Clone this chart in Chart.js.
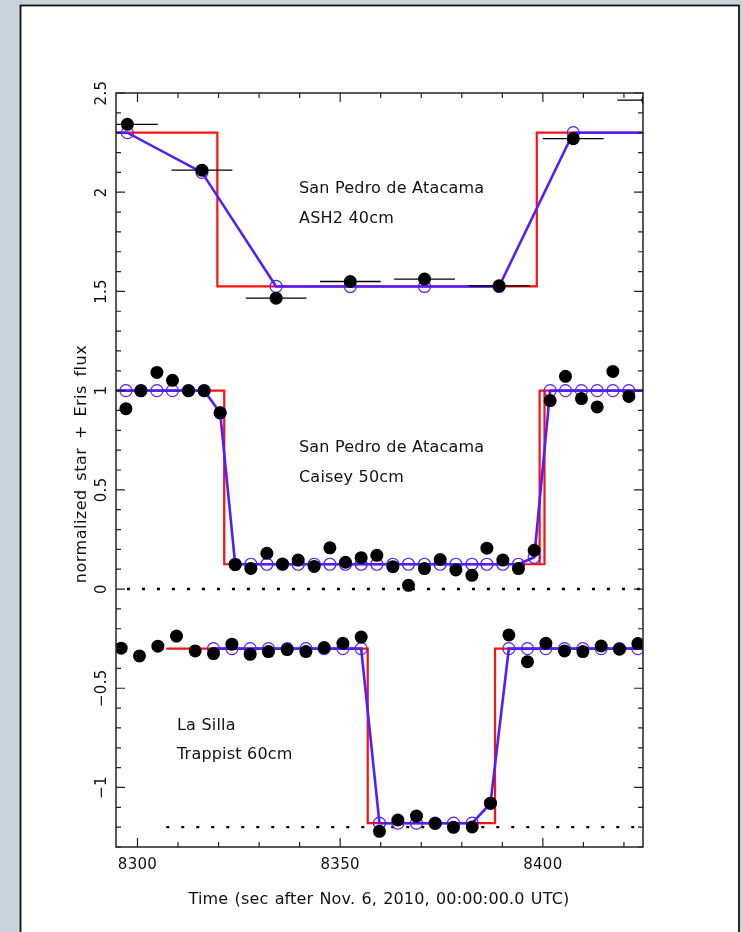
<!DOCTYPE html>
<html>
<head>
<meta charset="utf-8">
<script src="https://cdn.jsdelivr.net/npm/chart.js@4.4.1/dist/chart.umd.min.js"></script>
<style>
  html, body { margin: 0; padding: 0; background: #c9d3da; }
  canvas { display: block; }
</style>
</head>
<body>
<canvas id="fluxChart" width="743" height="932"></canvas>
<script>
// --- axis ranges and ticks ---
const xMin = 8294.7, xMax = 8424.7;
const yMin = -1.3, yMax = 2.5;
const xMajorTicks = [8300, 8350, 8400];
const xTickLabels = ['8300', '8350', '8400'];
const yMajorTicks = [2.5, 2, 1.5, 1, 0.5, 0, -0.5, -1];
const yTickLabels = ['2.5', '2', '1.5', '1', '0.5', '0', '\u22120.5', '\u22121'];

// --- San Pedro de Atacama, ASH2 40cm ---
const ash2Time = [8297.5, 8315.9, 8334.2, 8352.5, 8370.8, 8389.2, 8407.5, 8425.9];
const ash2Flux = [2.342, 2.111, 1.466, 1.550, 1.562, 1.528, 2.270, 2.464];
const ash2HalfExp = 7.5;
const ash2ModelTime = [8279.2, 8297.5, 8315.9, 8334.2, 8352.5, 8370.8, 8389.2, 8407.5, 8425.9];
const ash2Model = [2.30, 2.30, 2.10, 1.525, 1.525, 1.525, 1.525, 2.30, 2.30];
const ash2StepTime = [8290, 8319.7, 8319.7, 8398.5, 8398.5, 8430];
const ash2StepFlux = [2.30, 2.30, 1.525, 1.525, 2.30, 2.30];

// --- San Pedro de Atacama, Caisey 50cm ---
const caiseyTime = [8297.14, 8300.84, 8304.79, 8308.63, 8312.58, 8316.45, 8320.40, 8324.10,
  8327.97, 8331.92, 8335.77, 8339.64, 8343.59, 8347.46, 8351.31, 8355.18, 8359.05, 8363.00,
  8366.85, 8370.79, 8374.67, 8378.54, 8382.49, 8386.19, 8390.13, 8393.98, 8397.86, 8401.80,
  8405.58, 8409.52, 8413.40, 8417.27, 8421.21];
const caiseyFlux = [0.909, 1.000, 1.092, 1.052, 1.000, 1.000, 0.888, 0.123,
  0.104, 0.180, 0.126, 0.146, 0.114, 0.208, 0.135, 0.158, 0.170, 0.113,
  0.019, 0.103, 0.149, 0.096, 0.069, 0.206, 0.146, 0.103, 0.195, 0.950,
  1.072, 0.960, 0.918, 1.097, 0.971];
// model sampled at the same times, plus one point past each edge
const caiseyModelTime = [8293.26, ...caiseyTime, 8425.09];
const caiseyModel = [
  1.0,
  1.0, 1.0, 1.0, 1.0, 1.0, 1.0, 0.888,
  0.125, 0.125, 0.125, 0.125, 0.125, 0.125, 0.125, 0.125, 0.125, 0.125,
  0.125, 0.125, 0.125, 0.125, 0.125, 0.125, 0.125, 0.125, 0.125, 0.16,
  1.0, 1.0, 1.0, 1.0, 1.0, 1.0,
  1.0
];
const caiseyStepTime = [8290, 8321.4, 8321.4, 8400.4, 8400.4, 8399.2, 8399.2, 8399.2, 8430];
const caiseyStepFlux = [1.0, 1.0, 0.125, 0.125, 1.0, 1.0, 0.125, 1.0, 1.0];

// --- La Silla, Trappist 60cm ---
const trappistTime = [8295.98, 8300.49, 8305.03, 8309.62, 8314.23, 8318.75, 8323.29, 8327.80,
  8332.31, 8336.93, 8341.54, 8346.05, 8350.67, 8355.18, 8359.69, 8364.23, 8368.82, 8373.43,
  8377.95, 8382.56, 8387.07, 8391.61, 8396.20, 8400.74, 8405.33, 8409.87, 8414.38, 8418.89,
  8423.43];
const trappistFlux = [-0.298, -0.337, -0.288, -0.237, -0.312, -0.325, -0.278, -0.329,
  -0.315, -0.305, -0.315, -0.295, -0.273, -0.242, -1.221, -1.164, -1.144, -1.181,
  -1.201, -1.199, -1.079, -0.231, -0.366, -0.273, -0.312, -0.315, -0.287, -0.303,
  -0.275];
const trappistModelTime = [8318.75, 8323.29, 8327.80, 8332.31, 8336.93, 8341.54, 8346.05,
  8350.67, 8355.18, 8359.69, 8364.23, 8368.82, 8373.43, 8377.95, 8382.56, 8387.07, 8391.61,
  8396.20, 8400.74, 8405.33, 8409.87, 8414.38, 8418.89, 8423.43, 8427.97];
const trappistModel = [-0.30, -0.30, -0.30, -0.30, -0.30, -0.30, -0.30,
  -0.30, -0.30, -1.18, -1.18, -1.18, -1.18, -1.18, -1.18, -1.08, -0.30,
  -0.30, -0.30, -0.30, -0.30, -0.30, -0.30, -0.30, -0.30];
const trappistStepTime = [8307.1, 8356.8, 8356.8, 8388.2, 8388.2, 8430];
const trappistStepFlux = [-0.30, -0.30, -1.18, -1.18, -0.30, -0.30];

// zero levels (dotted)
const zeroCaiseyTime = [8290, 8430];
const zeroCaiseyFlux = [0, 0];
const zeroTrappistTime = [8307.1, 8430];
const zeroTrappistFlux = [-1.2, -1.2];

// --- labels ---
const panelLabels = [
  { text: 'San Pedro de Atacama', x: 299, y: 193 },
  { text: 'ASH2 40cm', x: 299, y: 223 },
  { text: 'San Pedro de Atacama', x: 299, y: 452 },
  { text: 'Caisey 50cm', x: 299, y: 482 },
  { text: 'La Silla', x: 177, y: 730 },
  { text: 'Trappist 60cm', x: 177, y: 759 }
];
const xTitle = 'Time (sec after Nov. 6, 2010, 00:00:00.0 UTC)';
const yTitle = 'normalized star + Eris flux';

const RED = '#ff1010';
const BLUE = '#4f1fff';
const FONT = '"DejaVu Sans", sans-serif';

const pts = (xs, ys) => xs.map((x, i) => ({ x: x, y: ys[i] }));
const inRange = c => (c.raw && c.raw.x >= xMin && c.raw.x <= xMax) ? 6 : 0;

function dataSet(xs, ys) {
  return {
    data: pts(xs, ys), showLine: false, pointRadius: 6.5, pointHoverRadius: 6.5,
    pointBackgroundColor: '#000', pointBorderColor: '#000', pointBorderWidth: 0,
    order: 1, clip: 0
  };
}
function modelSet(xs, ys) {
  return {
    data: pts(xs, ys), showLine: true, borderColor: BLUE, borderWidth: 2.6,
    pointRadius: inRange, pointHoverRadius: inRange, pointBorderColor: BLUE,
    pointBackgroundColor: 'rgba(0,0,0,0)', pointBorderWidth: 1.2, order: 2, clip: 0
  };
}
function stepSet(xs, ys) {
  return {
    data: pts(xs, ys), showLine: true, borderColor: RED, borderWidth: 2.2,
    pointRadius: 0, order: 3, clip: 0
  };
}
function dottedSet(xs, ys) {
  return {
    data: pts(xs, ys), showLine: true, borderColor: '#000', borderWidth: 2.4,
    borderDash: [3, 12], pointRadius: 0, order: 4, clip: 0
  };
}

// page background with bordered white sheet
const pagePlugin = {
  id: 'page',
  beforeDraw(chart) {
    const c = chart.ctx;
    c.save();
    c.fillStyle = '#c9d3da';
    c.fillRect(0, 0, chart.width, chart.height);
    c.fillStyle = '#fff';
    c.fillRect(20, 5, 719, chart.height);
    c.strokeStyle = '#111';
    c.lineWidth = 1.8;
    c.strokeRect(20.5, 5.5, 718.5, chart.height + 10);
    c.restore();
  }
};

// horizontal exposure bars on the ASH2 points
const errorBarPlugin = {
  id: 'errorBars',
  afterDatasetsDraw(chart) {
    const c = chart.ctx, xs = chart.scales.x, ys = chart.scales.y, a = chart.chartArea;
    c.save();
    c.beginPath();
    c.rect(a.left, a.top, a.right - a.left, a.bottom - a.top);
    c.clip();
    c.strokeStyle = '#000';
    c.lineWidth = 1.3;
    ash2Time.forEach((t, i) => {
      const py = ys.getPixelForValue(ash2Flux[i]);
      c.beginPath();
      c.moveTo(xs.getPixelForValue(t - ash2HalfExp), py);
      c.lineTo(xs.getPixelForValue(t + ash2HalfExp), py);
      c.stroke();
    });
    c.restore();
  }
};

// box frame, inward ticks on all sides, labels and titles
const framePlugin = {
  id: 'frame',
  afterDraw(chart) {
    const c = chart.ctx, xs = chart.scales.x, ys = chart.scales.y, a = chart.chartArea;
    c.save();
    c.strokeStyle = '#222';
    c.lineWidth = 1.5;
    c.strokeRect(a.left, a.top, a.right - a.left, a.bottom - a.top);

    c.lineWidth = 1.2;
    c.beginPath();
    for (let v = 8290; v <= 8430; v += 10) {
      if (v < xMin || v > xMax) continue;
      const px = xs.getPixelForValue(v);
      const len = xMajorTicks.includes(v) ? 9 : 5;
      c.moveTo(px, a.bottom); c.lineTo(px, a.bottom - len);
      c.moveTo(px, a.top); c.lineTo(px, a.top + len);
    }
    for (let k = -13; k <= 25; k++) {
      const py = ys.getPixelForValue(k / 10);
      const len = (k % 5 === 0) ? 9 : 5;
      c.moveTo(a.left, py); c.lineTo(a.left + len, py);
      c.moveTo(a.right, py); c.lineTo(a.right - len, py);
    }
    c.stroke();

    c.fillStyle = '#111';
    c.font = '15px ' + FONT;
    c.textAlign = 'center';
    c.textBaseline = 'alphabetic';
    c.letterSpacing = '0.3px';
    xMajorTicks.forEach((v, i) => {
      c.fillText(xTickLabels[i], xs.getPixelForValue(v), a.bottom + 22);
    });
    yMajorTicks.forEach((v, i) => {
      c.save();
      c.translate(a.left - 10, ys.getPixelForValue(v));
      c.rotate(-Math.PI / 2);
      c.fillText(yTickLabels[i], 0, 0);
      c.restore();
    });

    c.font = '16px ' + FONT;
    c.letterSpacing = '0.15px';
    c.wordSpacing = '1px';
    c.fillText(xTitle, 379, a.bottom + 57);
    c.save();
    c.translate(a.left - 30, 464);
    c.rotate(-Math.PI / 2);
    c.letterSpacing = '0.5px';
    c.wordSpacing = '3px';
    c.fillText(yTitle, 0, 0);
    c.restore();

    c.letterSpacing = '0.2px';
    c.wordSpacing = '0px';
    c.textAlign = 'left';
    panelLabels.forEach(l => c.fillText(l.text, l.x, l.y));
    c.restore();
  }
};

new Chart(document.getElementById('fluxChart'), {
  type: 'scatter',
  data: {
    datasets: [
      dataSet(ash2Time, ash2Flux),
      dataSet(caiseyTime, caiseyFlux),
      dataSet(trappistTime, trappistFlux),
      modelSet(ash2ModelTime, ash2Model),
      modelSet(caiseyModelTime, caiseyModel),
      modelSet(trappistModelTime, trappistModel),
      stepSet(ash2StepTime, ash2StepFlux),
      stepSet(caiseyStepTime, caiseyStepFlux),
      stepSet(trappistStepTime, trappistStepFlux),
      dottedSet(zeroCaiseyTime, zeroCaiseyFlux),
      dottedSet(zeroTrappistTime, zeroTrappistFlux)
    ]
  },
  options: {
    responsive: false,
    animation: false,
    layout: { padding: { left: 116, right: 100, top: 93, bottom: 85 } },
    plugins: { legend: { display: false }, tooltip: { enabled: false } },
    scales: {
      x: { type: 'linear', min: xMin, max: xMax, display: false },
      y: { type: 'linear', min: yMin, max: yMax, display: false }
    }
  },
  plugins: [pagePlugin, errorBarPlugin, framePlugin]
});
</script>
</body>
</html>
